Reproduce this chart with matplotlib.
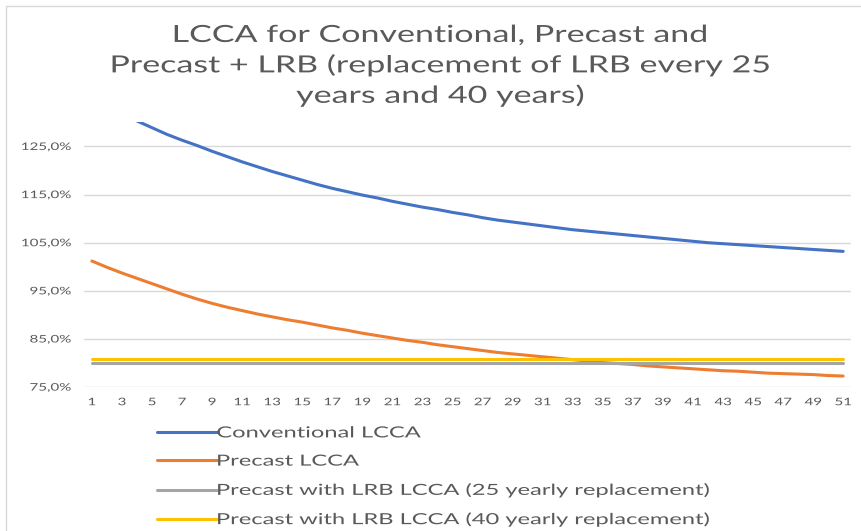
import numpy as np
import matplotlib
matplotlib.use('Agg')
import matplotlib.pyplot as plt
from matplotlib.ticker import FuncFormatter
from matplotlib.patches import Rectangle
from matplotlib.patheffects import AbstractPathEffect
from matplotlib.transforms import Affine2D

years = list(range(1, 52))

conventional = [135.0, 133.4, 131.8, 130.3, 128.9, 127.5, 126.3, 125.2, 124.0, 122.9,
                121.8, 120.8, 119.8, 118.9, 118.0, 117.1, 116.3, 115.6, 114.9, 114.3,
                113.6, 113.0, 112.4, 111.9, 111.3, 110.8, 110.2, 109.7, 109.3, 108.9,
                108.5, 108.1, 107.7, 107.4, 107.1, 106.8, 106.5, 106.2, 105.9, 105.6,
                105.3, 105.0, 104.8, 104.6, 104.4, 104.2, 104.0, 103.8, 103.6, 103.4,
                103.2]

precast = [101.2, 99.9, 98.7, 97.6, 96.5, 95.4, 94.3, 93.3, 92.4, 91.6,
           90.9, 90.2, 89.6, 89.0, 88.5, 87.9, 87.3, 86.8, 86.2, 85.7,
           85.2, 84.7, 84.3, 83.8, 83.4, 83.0, 82.6, 82.2, 81.9, 81.6,
           81.3, 81.0, 80.7, 80.4, 80.1, 79.9, 79.7, 79.4, 79.2, 79.0,
           78.8, 78.6, 78.4, 78.3, 78.1, 77.9, 77.8, 77.7, 77.6, 77.4,
           77.3]

lrb_25 = [80.0] * 51
lrb_40 = [80.8] * 51

labels = ['Conventional LCCA', 'Precast LCCA',
          'Precast with LRB LCCA (25 yearly replacement)',
          'Precast with LRB LCCA (40 yearly replacement)']
colors = ['#4472C4', '#ED7D31', '#A5A5A5', '#FFC000']
title = 'LCCA for Conventional, Precast and\nPrecast + LRB (replacement of LRB every 25\nyears and 40 years)'


class Stretch(AbstractPathEffect):
    # the source picture is stretched sideways, so widen the glyphs
    def __init__(self, sx, anchor='center'):
        super().__init__()
        self.sx = sx
        self.anchor = anchor

    def draw_path(self, renderer, gc, tpath, affine, rgbFace=None):
        ext = tpath.transformed(affine).get_extents()
        if self.anchor == 'left':
            x0 = ext.x0
        elif self.anchor == 'right':
            x0 = ext.x1
        else:
            x0 = (ext.x0 + ext.x1) / 2
        affine = affine + Affine2D().translate(-x0, 0).scale(self.sx, 1).translate(x0, 0)
        renderer.draw_path(gc, tpath, affine, rgbFace)


plt.rcParams['font.family'] = ['Lato', 'DejaVu Sans']

fig = plt.figure(figsize=(8.61, 5.31), dpi=100)
ax = fig.add_axes([0.098, 0.271, 0.890, 0.4985])

series = [conventional, precast, lrb_25, lrb_40]
for vals, lab, col in zip(series, labels, colors):
    ax.plot(years, vals, color=col, linewidth=2.2, label=lab, solid_capstyle='round')

ax.set_xlim(0.5, 51.5)
ax.set_ylim(75, 130)
ax.set_yticks([75, 85, 95, 105, 115, 125])
ax.set_xticks(years[::2])
ax.yaxis.set_major_formatter(FuncFormatter(lambda v, p: f'{v:.1f}%'.replace('.', ',')))
ax.grid(True, axis='y', color='#D9D9D9', linewidth=1)
ax.set_axisbelow(True)
for s in ax.spines.values():
    s.set_visible(False)
ax.tick_params(length=0, labelsize=7.5, colors='#595959')
ax.tick_params(axis='x', pad=8)
ax.tick_params(axis='y', pad=9.7)
for t in ax.get_yticklabels():
    t.set_path_effects([Stretch(1.45, 'right')])
for t in ax.get_xticklabels():
    t.set_path_effects([Stretch(1.45)])

fig.text(0.511, 0.953, title, ha='center', va='top', fontsize=17, color='#595959',
         linespacing=1.46, path_effects=[Stretch(1.44)])

leg = fig.legend(loc='upper left', bbox_to_anchor=(0.1825, 0.197), frameon=False,
                 fontsize=11, handlelength=3.9, handletextpad=0.0, labelspacing=0.93,
                 borderaxespad=0, borderpad=0)
for t in leg.get_texts():
    t.set_color('#595959')
    t.set_path_effects([Stretch(1.55, 'left')])

fig.patches.append(Rectangle((6 / 861, -0.1), 1.2, 1 - 6 / 531 + 0.1, transform=fig.transFigure,
                             fill=False, edgecolor='#D9D9D9', linewidth=1))

fig.savefig('out.png', dpi=100)
